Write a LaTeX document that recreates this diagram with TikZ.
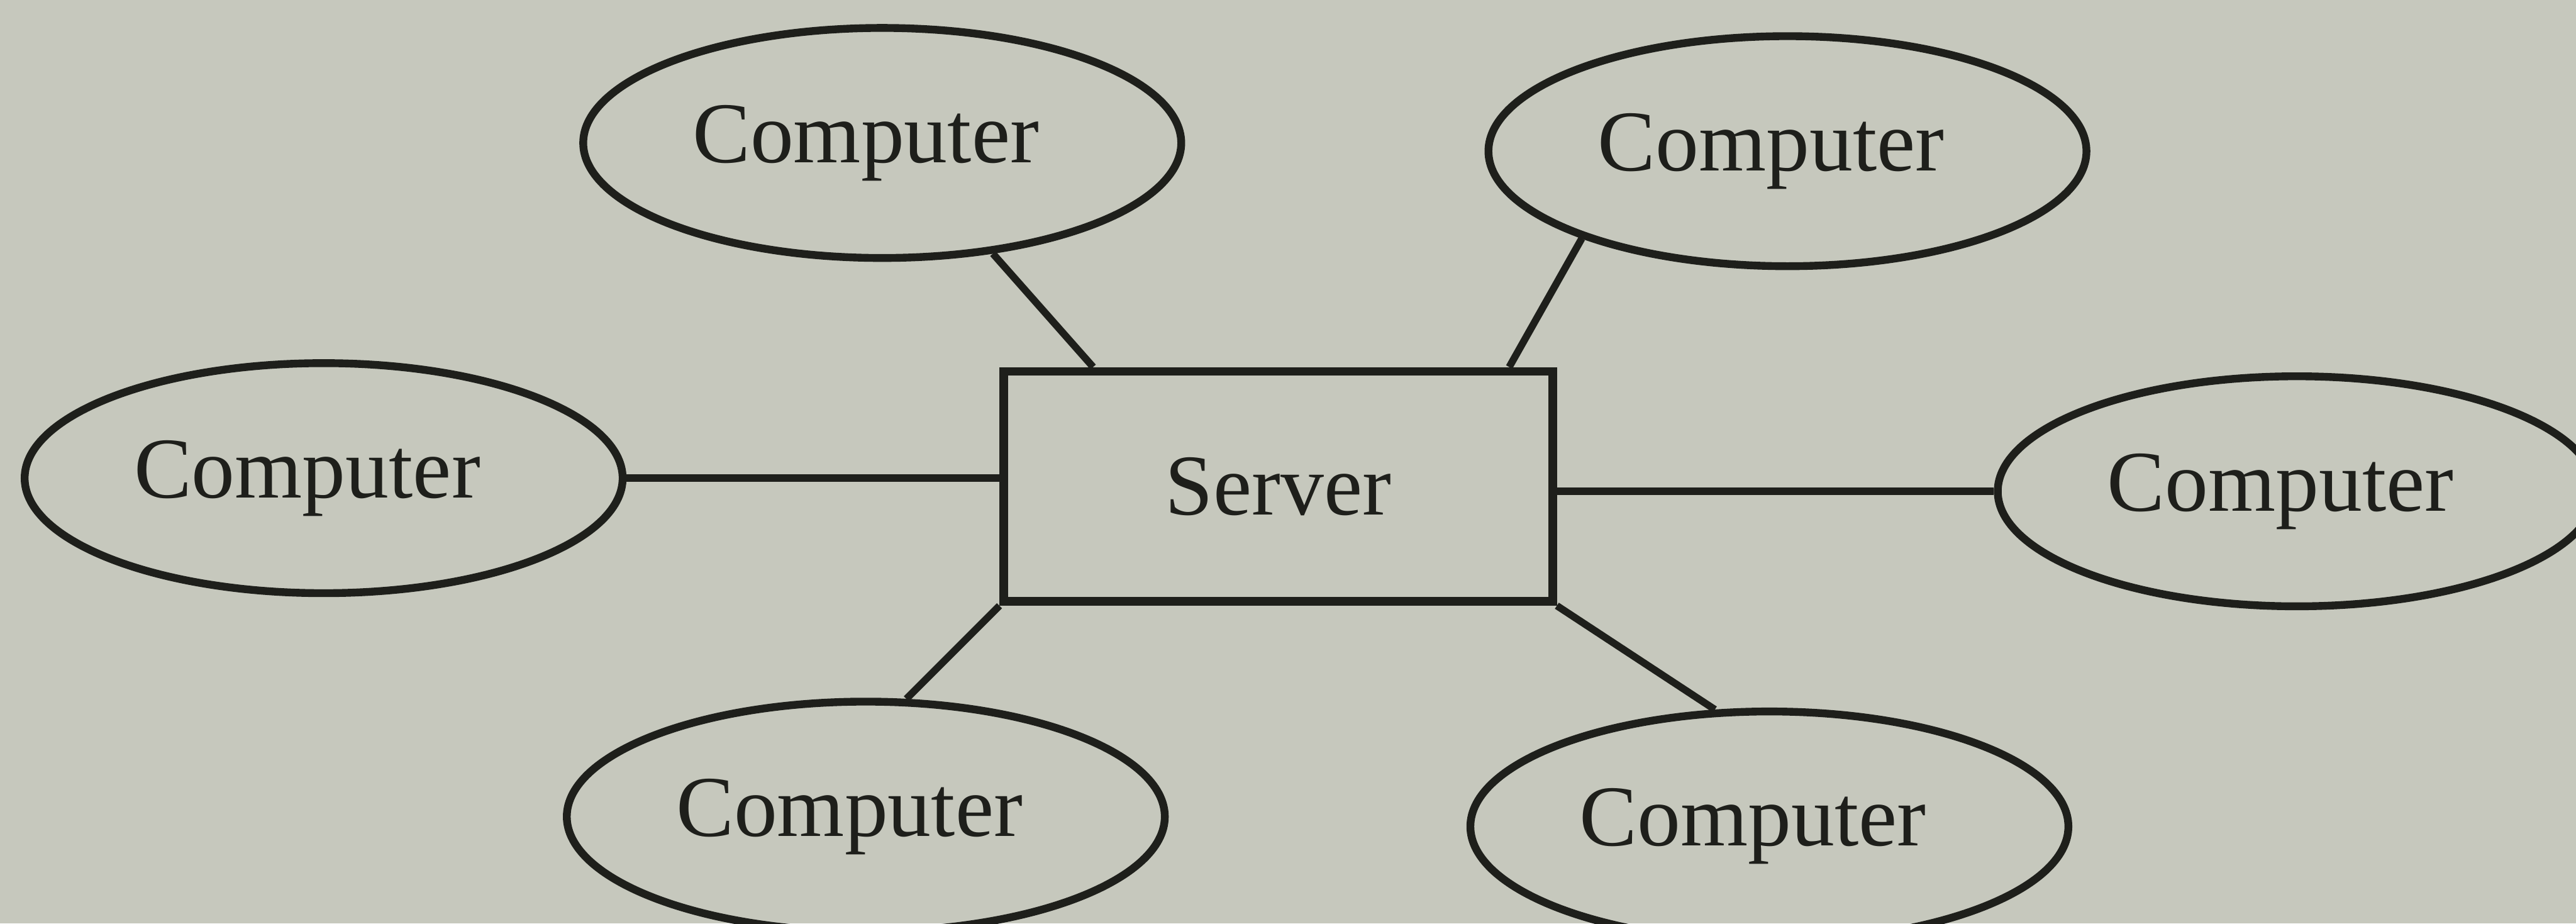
\documentclass[tikz,border=0pt]{standalone}
\usepackage{fontspec}
\setmainfont{Liberation Serif}
\usetikzlibrary{shapes.geometric, calc}

\definecolor{paper}{RGB}{198,200,189}
\definecolor{ink}{RGB}{30,31,27}

\begin{document}
\begin{tikzpicture}
	\tikzset{every node/.style={font=\fontsize{15}{18}\selectfont, text=ink},
		comp/.style={ellipse, draw=ink, line width=1.35pt, minimum width=3.64cm, minimum height=1.4cm, inner sep=0pt, label={[xshift=-0.1cm]center:Computer}},
		srv/.style={rectangle, draw=ink, line width=1.5pt, minimum width=3.34cm, minimum height=1.4cm},
		link/.style={draw=ink, line width=1.25pt}}

	\fill[paper] (0,0) rectangle (15.68,5.62);
	\useasboundingbox (0,0) rectangle (15.68,5.62);

	\node[srv] (server) at (7.78,2.66) {Server};

	\node[comp] (c1) at (5.37,4.75) {};
	\node[comp] (c2) at (10.88,4.70) {};
	\node[comp] (c3) at (1.97,2.71) {};
	\node[comp] (c4) at (13.98,2.63) {};
	\node[comp] (c5) at (5.27,0.65) {};
	\node[comp] (c6) at (10.77,0.59) {};

	% spokes
	\draw[link] (c1.-45) -- ($(server.north west)+(0.57,0)$);
	\draw[link] (c2.203) -- ($(server.north east)+(-0.29,0)$);
	\draw[link] (c3.east) -- (c3.east -| server.west);
	\draw[link] (server.east |- c4.west) -- (c4.west);
	\draw[link] (server.south west) -- (c5.71);
	\draw[link] (server.south east) -- (c6.115);
\end{tikzpicture}
\end{document}
